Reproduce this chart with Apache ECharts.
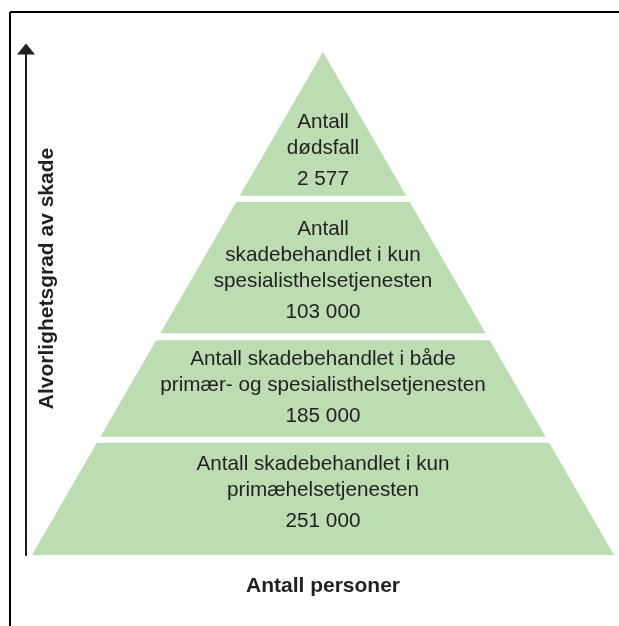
<!DOCTYPE html>
<html>
<head>
<meta charset="utf-8">
<script src="https://cdn.jsdelivr.net/npm/echarts@6/dist/echarts.min.js"></script>
<style>
  html, body { margin: 0; padding: 0; background: #fff; }
  #chart { width: 619px; height: 626px; }
</style>
</head>
<body>
<div id="chart"></div>
<script>
// layers from the base of the pyramid to the top
const layerNames = [
  'Antall skadebehandlet i kun\nprimæhelsetjenesten',
  'Antall skadebehandlet i både\nprimær- og spesialisthelsetjenesten',
  'Antall\nskadebehandlet i kun\nspesialisthelsetjenesten',
  'Antall\ndødsfall'
];
const personCounts = [251000, 185000, 103000, 2577];
const yTitle = 'Alvorlighetsgrad av skade';
const xTitle = 'Antall personer';

// layout only: vertical span of each layer (0 = base, 1 = apex) and where its text sits
const layerSpans = [[0, 0.223], [0.235, 0.427], [0.441, 0.702], [0.714, 1]];
const labelAt = [0.119, 0.328, 0.561, 0.799];

const FONT = '"Liberation Sans", Arial, sans-serif';
const INK = '#231f20';
const GREEN = '#bcdcb2';

// 251000 -> "251 000"
const fmt = v => String(v).replace(/\B(?=(\d{3})+(?!\d))/g, ' ');

const chart = echarts.init(document.getElementById('chart'));

function renderItem(params, api) {
  const i = params.dataIndex;
  const y0 = layerSpans[i][0];
  const y1 = layerSpans[i][1];
  // sides of the pyramid run straight from the base corners to the apex
  const pts = [[-(1 - y0), y0], [1 - y0, y0], [1 - y1, y1], [-(1 - y1), y1]].map(p => api.coord(p));
  const c = api.coord([0, labelAt[i]]);
  const lines = layerNames[i].split('\n').map(s => '{n|' + s + '}');
  lines.push('{v|' + fmt(api.value(1)) + '}');
  return {
    type: 'group',
    children: [
      { type: 'polygon', shape: { points: pts }, style: { fill: GREEN } },
      {
        type: 'text',
        x: c[0],
        y: c[1],
        style: {
          text: lines.join('\n'),
          align: 'center',
          verticalAlign: 'middle',
          fill: INK,
          fontFamily: FONT,
          fontSize: 20.7,
          rich: {
            n: { fontFamily: FONT, fontSize: 20.7, lineHeight: 26, fill: INK },
            v: { fontFamily: FONT, fontSize: 20.7, lineHeight: 36, fill: INK }
          }
        }
      }
    ]
  };
}

const option = {
  animation: false,
  grid: { left: 32, right: 5, top: 52, bottom: 71, outerBoundsMode: 'none' },
  xAxis: {
    type: 'value', min: -1, max: 1,
    axisLine: { show: false }, axisTick: { show: false },
    axisLabel: { show: false }, splitLine: { show: false },
    name: xTitle, nameLocation: 'middle', nameGap: 21,
    nameTextStyle: { fontFamily: FONT, fontSize: 21, fontWeight: 'bold', color: INK }
  },
  yAxis: {
    type: 'value', min: 0, max: 1, offset: 6,
    axisLine: {
      show: true, onZero: false, symbol: ['none', 'triangle'], symbolSize: [18, 11], symbolOffset: [0, 3],
      lineStyle: { color: INK, width: 2 }
    },
    axisTick: { show: false }, axisLabel: { show: false }, splitLine: { show: false },
    name: yTitle, nameLocation: 'middle', nameRotate: 90, nameGap: -32,
    // title sits a little above the middle of the arrow
    nameTextStyle: { fontFamily: FONT, fontSize: 21, fontWeight: 'bold', color: INK, padding: [0, 0, 0, 50] }
  },
  graphic: [
    { type: 'line', shape: { x1: 10, y1: 12, x2: 619, y2: 12 }, style: { stroke: '#000', lineWidth: 2 } },
    { type: 'line', shape: { x1: 10, y1: 12, x2: 10, y2: 626 }, style: { stroke: '#000', lineWidth: 2 } }
  ],
  series: [{
    type: 'custom',
    renderItem: renderItem,
    data: personCounts.map((v, i) => ({ name: layerNames[i], value: [i, v] }))
  }]
};

chart.setOption(option);
</script>
</body>
</html>
